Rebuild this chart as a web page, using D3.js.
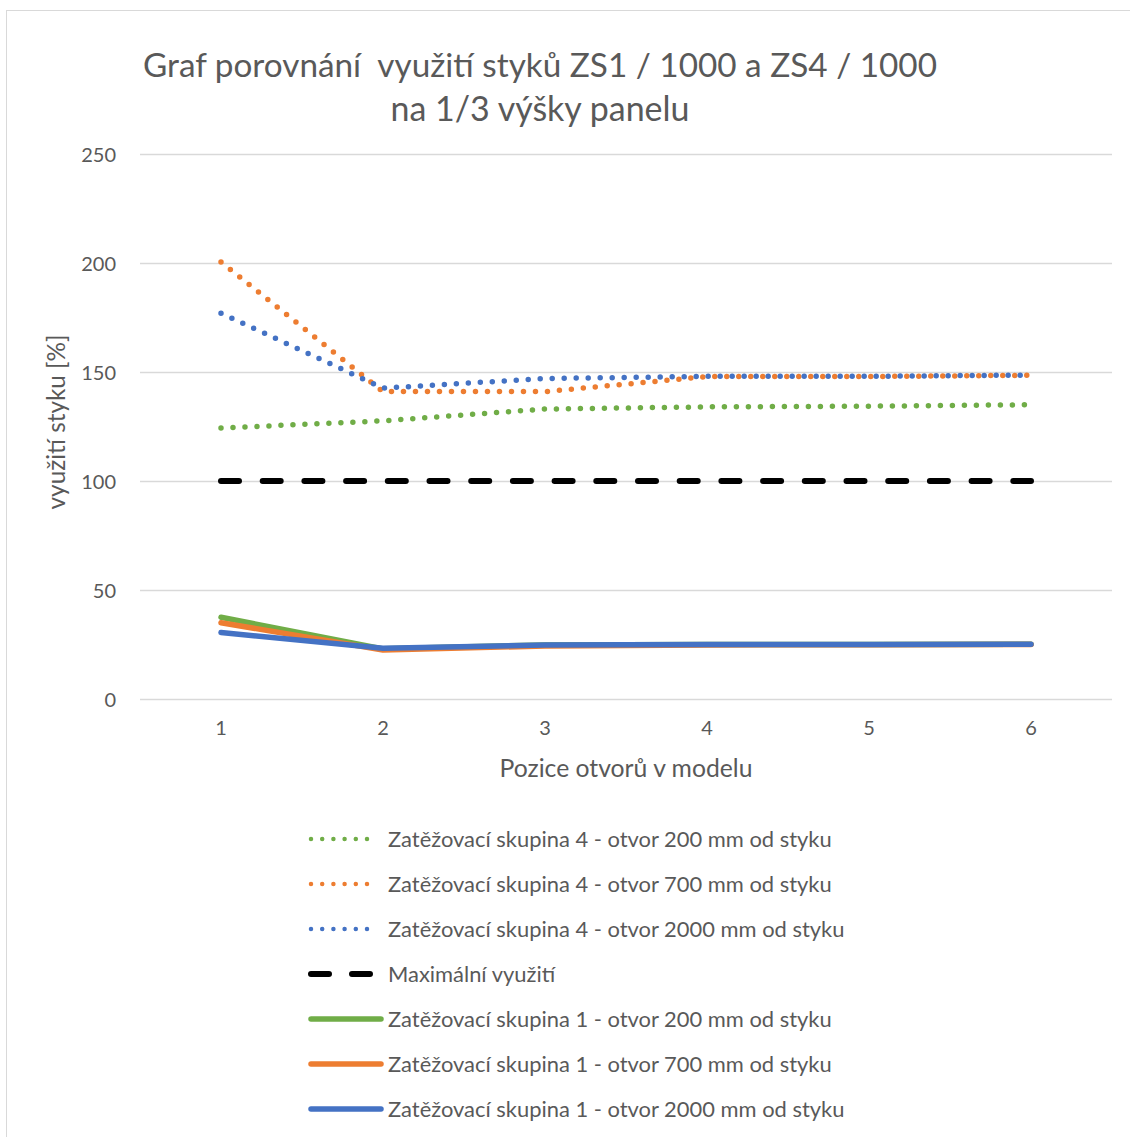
<!DOCTYPE html>
<html>
<head>
<meta charset="utf-8">
<script src="https://cdn.jsdelivr.net/npm/d3@7"></script>
<style>
html,body{margin:0;padding:0;background:#fff;}
svg{display:block;}
text{font-family:Lato,"Open Sans",sans-serif;fill:#595959;white-space:pre;}
</style>
</head>
<body>
<svg id="chart" width="1130" height="1137"></svg>
<script>
// ---- data ----
const categories = [1, 2, 3, 4, 5, 6];
const yTicks = [0, 50, 100, 150, 200, 250];
const titleLines = ["Graf porovnání  využití styků ZS1 / 1000 a ZS4 / 1000", "na 1/3 výšky panelu"];
const xTitle = "Pozice otvorů v modelu";
const yTitle = "využití styku [%]";

const zs4_200  = [124.3, 127.6, 133.0, 134.0, 134.3, 135.0];
const zs4_700  = [200.5, 141.0, 141.0, 147.9, 147.9, 148.5];
const zs4_2000 = [177.0, 142.6, 147.0, 148.0, 148.0, 148.6];
const maxUse   = [100, 100, 100, 100, 100, 100];
const zs1_200  = [37.5, 23.0, 24.8, 25.0, 25.0, 25.1];
const zs1_700  = [35.0, 22.5, 24.3, 24.8, 24.9, 25.0];
const zs1_2000 = [30.5, 23.3, 24.8, 25.0, 25.0, 25.1];

const seriesNames = [
  "Zatěžovací skupina 4 - otvor 200 mm od styku",
  "Zatěžovací skupina 4 - otvor 700 mm od styku",
  "Zatěžovací skupina 4 - otvor 2000 mm od styku",
  "Maximální využití",
  "Zatěžovací skupina 1 - otvor 200 mm od styku",
  "Zatěžovací skupina 1 - otvor 700 mm od styku",
  "Zatěžovací skupina 1 - otvor 2000 mm od styku"
];
const seriesValues = [zs4_200, zs4_700, zs4_2000, maxUse, zs1_200, zs1_700, zs1_2000];
const seriesColors = ["#70AD47", "#ED7D31", "#4472C4", "#000000", "#70AD47", "#ED7D31", "#4472C4"];
const seriesStyles = ["dot", "dot", "dot", "dash", "solid", "solid", "solid"];

// ---- layout ----
const svg = d3.select("#chart");
const plot = {left: 140, right: 1112, top: 154, bottom: 699};

svg.append("rect").attr("x", 6.5).attr("y", 10.5).attr("width", 1140).attr("height", 1150)
  .attr("fill", "#fff").attr("stroke", "#d9d9d9").attr("stroke-width", 1);

const x = d3.scaleBand().domain(categories).range([plot.left, plot.right]).padding(0);
const xc = d => x(d) + x.bandwidth() / 2;
const y = d3.scaleLinear().domain([0, 250]).range([plot.bottom, plot.top]);

function fit(sel, target) {
  const node = sel.node();
  const fs = parseFloat(sel.attr("font-size"));
  const w = node.getComputedTextLength();
  sel.attr("font-size", (fs * target / w).toFixed(2));
  return sel;
}

// gridlines via axis
const yAxis = d3.axisLeft(y).tickValues(yTicks).tickSize(-(plot.right - plot.left)).tickPadding(24);
const gy = svg.append("g").attr("transform", `translate(${plot.left},0)`).call(yAxis);
gy.select(".domain").remove();
gy.selectAll(".tick line").attr("stroke", "#d9d9d9").attr("stroke-width", 1.3);
gy.selectAll(".tick text").attr("font-size", 20).attr("fill", "#595959")
  .attr("font-family", "Lato, 'Open Sans', sans-serif").attr("dy", "0.35em");

const xAxis = d3.axisBottom(x).tickSize(0).tickPadding(22);
const gx = svg.append("g").attr("transform", `translate(0,${plot.bottom})`).call(xAxis);
gx.select(".domain").remove();
gx.selectAll(".tick text").attr("font-size", 20).attr("fill", "#595959")
  .attr("font-family", "Lato, 'Open Sans', sans-serif");

// titles
const t1 = svg.append("text").attr("x", 540).attr("y", 77).attr("text-anchor", "middle")
  .attr("xml:space", "preserve").attr("font-size", 34).text(titleLines[0]);
fit(t1, 794);
const t2 = svg.append("text").attr("x", 540).attr("y", 121).attr("text-anchor", "middle")
  .attr("font-size", 34).text(titleLines[1]);
fit(t2, 299);

const xt = svg.append("text").attr("x", 626).attr("y", 777).attr("text-anchor", "middle")
  .attr("font-size", 22).text(xTitle);
fit(xt, 253);
const yt = svg.append("text").attr("transform", "translate(65,422) rotate(-90)").attr("text-anchor", "middle")
  .attr("font-size", 22).text(yTitle);
fit(yt, 175);

// lines
const line = d3.line().x((d, i) => xc(categories[i])).y(d => y(d));
function styleLine(sel, style, color, legend) {
  sel.attr("fill", "none").attr("stroke", color).attr("stroke-linecap", "round").attr("stroke-linejoin", "round");
  if (style === "dot") sel.attr("stroke-width", legend ? 4.5 : 5.5).attr("stroke-dasharray", legend ? "0 11.2" : "0 12");
  else if (style === "dash") sel.attr("stroke-width", 6).attr("stroke-dasharray", "18 23.7");
  else sel.attr("stroke-width", 5.5);
  return sel;
}
const lg = svg.append("g");
seriesValues.forEach((vals, i) => {
  styleLine(lg.append("path").datum(vals).attr("d", line), seriesStyles[i], seriesColors[i], false);
});

// legend
const leg = svg.append("g");
seriesNames.forEach((name, i) => {
  const cy = 839 + i * 45;
  const st = seriesStyles[i];
  const x0 = 311, x1 = st === "solid" ? 381 : (st === "dash" ? 370 : 368);
  const p = leg.append("path").attr("d", `M${x0},${cy}H${x1}`);
  if (st === "dash") {
    p.attr("fill", "none").attr("stroke", "#000").attr("stroke-width", 6)
      .attr("stroke-linecap", "round").attr("stroke-dasharray", "18 23");
  } else {
    styleLine(p, st, seriesColors[i], true);
  }
  const t = leg.append("text").attr("x", 388).attr("y", cy).attr("dy", "0.35em")
    .attr("font-size", 20).text(name);
  if (i === 0) fit(t, 444);
});
const fs0 = leg.select("text").attr("font-size");
leg.selectAll("text").attr("font-size", fs0);
</script>
</body>
</html>
